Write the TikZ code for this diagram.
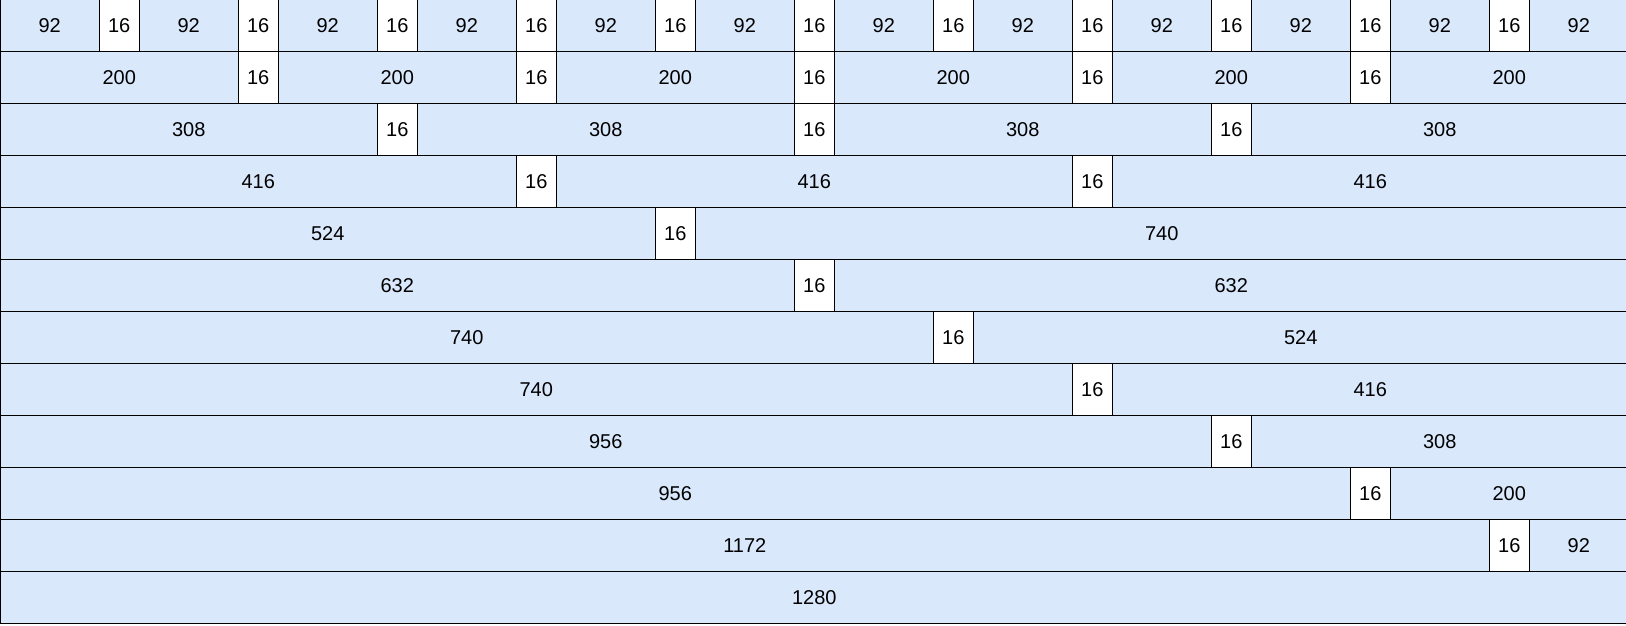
\documentclass[tikz,border=0pt]{standalone}
\usepackage{fontspec}
\setmainfont{Liberation Sans}
\definecolor{cellblue}{HTML}{DAE8FC}

\tikzstyle{cell}=[rectangle,
                  draw=black,
                  line width=1pt,
                  fill=cellblue,
                  anchor=north west,
                  inner sep=0pt,
                  outer sep=0pt,
                  minimum height=52pt,
                  font=\fontsize{20}{24}\selectfont]
\tikzstyle{gap}=[cell,
                 fill=white,
                 minimum width=39.5pt]
\tikzset{colspan/.style={cell, minimum width={#1*99.5pt+(#1-1)*39.5pt}}}

\begin{document}
\begin{tikzpicture}[x=1pt,y=1pt]
  \useasboundingbox (0,0) rectangle (1626,-625);

  % cells of each row: start column / span / label
  \foreach \r/\cells in {
      1/{0/1/92,1/1/92,2/1/92,3/1/92,4/1/92,5/1/92,6/1/92,7/1/92,8/1/92,9/1/92,10/1/92,11/1/92},
      2/{0/2/200,2/2/200,4/2/200,6/2/200,8/2/200,10/2/200},
      3/{0/3/308,3/3/308,6/3/308,9/3/308},
      4/{0/4/416,4/4/416,8/4/416},
      5/{0/5/524,5/7/740},
      6/{0/6/632,6/6/632},
      7/{0/7/740,7/5/524},
      8/{0/8/740,8/4/416},
      9/{0/9/956,9/3/308},
      10/{0/10/956,10/2/200},
      11/{0/11/1172,11/1/92},
      12/{0/12/1280}} {
    \foreach \s/\n/\t in \cells {
      \node (r\r c\s) [colspan=\n] at ({\s*139}, {0.5-(\r-1)*52}) {\t};
    }
  }

  % the 16 gutters between the cells, by the column they follow
  \foreach \r/\gaps in {
      1/{1,2,3,4,5,6,7,8,9,10,11},
      2/{2,4,6,8,10},
      3/{3,6,9},
      4/{4,8},
      5/{5}, 6/{6}, 7/{7}, 8/{8}, 9/{9}, 10/{10}, 11/{11}} {
    \foreach \g in \gaps {
      \node (r\r g\g) [gap] at ({\g*139-39.5}, {0.5-(\r-1)*52}) {16};
    }
  }
\end{tikzpicture}
\end{document}
